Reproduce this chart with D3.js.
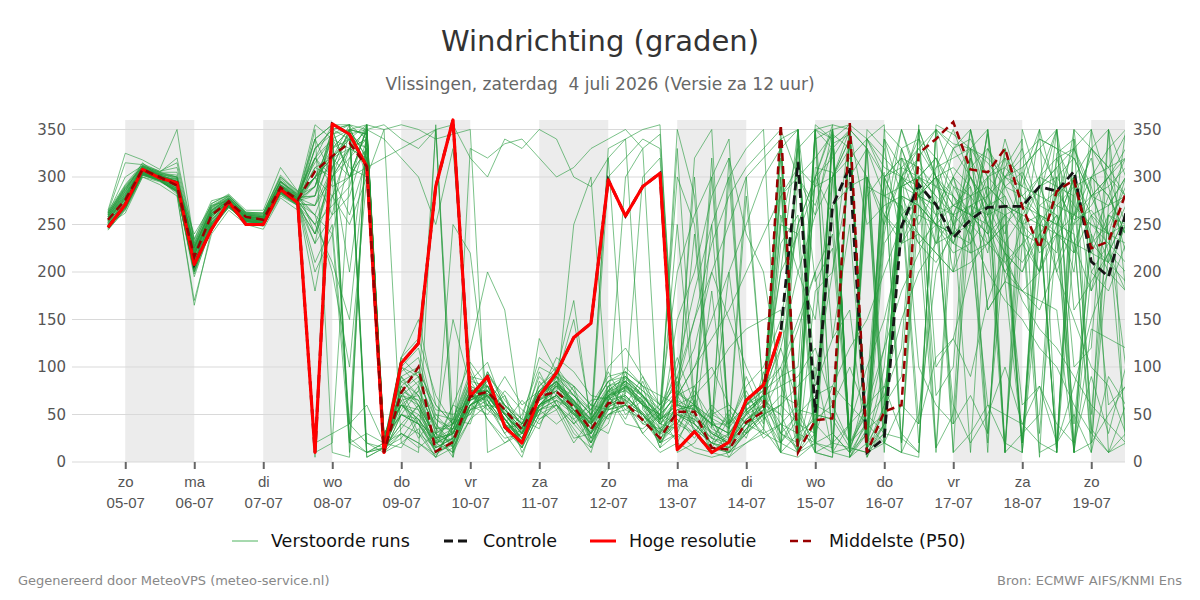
<!DOCTYPE html>
<html>
<head>
<meta charset="utf-8">
<script src="https://cdn.jsdelivr.net/npm/d3@7"></script>
<style>
  body { margin: 0; background: #fff; }
  svg { font-family: "DejaVu Sans", sans-serif; display: block; }
</style>
</head>
<body>
<svg id="chart" width="1200" height="600"></svg>
<script>
// 6-hourly steps from za 04-07 18:00 up to zo 19-07 12:00 (60 steps)
const startTime = Date.UTC(2026, 6, 4, 18);
const stepCount = 60;

const dayLabels = ["zo", "ma", "di", "wo", "do", "vr", "za", "zo", "ma", "di", "wo", "do", "vr", "za", "zo"];
const dateLabels = ["05-07", "06-07", "07-07", "08-07", "09-07", "10-07", "11-07", "12-07", "13-07", "14-07", "15-07", "16-07", "17-07", "18-07", "19-07"];
const yTicks = [0, 50, 100, 150, 200, 250, 300, 350];

// Hoge resolutie (10 days only)
const hres = [247,271,308,299,294,208,245,274,250,250,287,273,10,356,345,311,10,104,125,290,360,69,90,37,20,69,94,131,146,297,259,290,304,13,32,10,21,65,81,137];

// Controle run
const control = [247,271,308,299,294,208,245,274,250,250,287,273,10,356,345,311,10,104,125,290,360,69,90,37,20,69,94,131,146,297,259,290,304,13,32,10,21,65,81,137,
  316,52,269,311,10,25,248,292,271,236,255,268,269,269,290,285,306,211,195,262];

// Middelste (P50)
const p50 = [255,276,308,300,291,216,260,274,258,255,289,276,306,322,336,311,10,73,100,11,21,69,74,55,34,69,74,58,34,62,62,44,25,53,53,15,13,42,53,355,
  10,44,46,357,10,53,60,325,340,358,308,305,330,269,225,285,297,225,232,283];

// Verstoorde runs (50 members)
const members = [
  [258,280,310,302,295,220,262,276,260,258,292,280,300,340,20,355,25,60,45,20,30,70,75,50,30,65,80,60,40,70,75,60,40,55,60,30,20,45,60,340,20,50,45,350,15,60,290,300,320,250,270,260,220,200,240,260,230,180,220,260],
  [250,270,305,298,288,210,255,270,255,250,285,272,270,310,330,340,15,80,60,15,25,65,70,45,25,70,85,55,30,300,320,340,330,70,40,20,15,30,50,60,40,300,350,10,30,240,330,280,260,230,280,300,320,250,200,300,320,280,240,300],
  [262,290,312,305,300,225,268,280,262,262,300,285,240,300,350,345,20,95,110,40,20,85,60,55,40,80,95,70,55,85,90,75,60,300,250,50,40,60,80,100,10,20,340,5,45,70,120,350,300,270,260,240,200,180,160,210,260,300,280,240],
  [245,265,300,295,285,200,250,268,252,248,280,270,10,20,300,350,10,50,40,10,35,60,80,40,20,55,60,45,20,55,60,50,20,80,120,200,150,100,60,30,15,90,200,300,330,20,10,50,200,250,300,250,310,340,10,20,80,150,200,250],
  [260,285,315,300,290,215,258,273,258,256,290,275,280,350,300,330,30,60,75,350,40,70,65,40,15,60,70,50,45,320,60,50,30,60,55,40,40,80,100,150,250,300,355,350,5,40,300,330,350,300,280,250,230,260,290,300,270,250,230,210],
  [252,275,306,303,295,240,270,275,258,250,290,278,300,320,340,5,15,30,20,5,15,55,70,60,40,75,90,80,60,90,95,80,70,60,320,350,20,60,70,80,90,120,60,20,40,120,280,270,250,220,230,60,20,10,300,320,330,280,270,300],
  [248,268,303,297,282,165,245,268,253,255,285,270,250,210,150,330,10,110,150,60,40,90,85,60,40,70,90,70,50,75,85,70,50,90,150,200,250,300,320,340,350,10,20,40,100,150,230,260,250,270,280,290,270,250,260,200,150,100,80,30],
  [265,325,318,308,350,230,272,282,265,265,310,285,320,355,345,350,355,340,330,350,355,320,300,340,330,350,340,300,290,320,340,350,355,10,20,50,60,40,30,20,10,30,80,120,150,200,250,280,300,250,220,230,210,180,200,240,260,280,300,330],
  [255,278,308,298,292,218,262,275,257,252,288,276,210,250,40,20,15,40,30,15,25,65,75,55,35,65,75,60,40,65,80,65,35,50,40,25,20,50,60,50,330,350,10,15,55,260,300,290,270,240,250,280,300,320,340,330,290,240,200,180],
  [250,262,300,292,280,170,240,265,250,245,278,265,5,350,340,310,25,70,60,25,30,70,80,50,30,60,75,55,30,50,55,45,25,45,30,15,10,35,50,120,200,260,300,350,20,80,150,200,230,260,240,200,170,150,120,100,60,30,10,60],
  [258,282,310,300,298,228,265,277,260,258,295,280,290,330,350,320,20,85,95,30,40,75,70,50,25,70,85,60,35,75,90,70,45,60,55,300,340,50,70,20,55,50,45,15,60,300,310,330,300,270,260,250,220,170,140,120,90,60,40,20],
  [262,300,312,305,320,235,275,280,262,260,295,282,320,290,300,350,10,30,20,8,20,60,75,45,20,55,65,55,25,60,300,330,20,30,15,10,5,20,30,40,60,350,340,5,35,50,290,300,280,260,310,330,300,280,260,240,220,300,330,350],
  [244,266,302,296,284,205,248,270,254,252,284,273,260,200,100,300,30,60,45,20,250,220,65,40,25,60,70,250,300,55,65,50,30,70,100,130,160,200,240,280,310,290,335,345,10,20,60,40,110,130,90,170,220,200,260,250,300,330,310,345],
  [256,276,308,300,292,222,260,273,257,255,288,275,290,340,10,350,15,35,60,25,10,45,90,35,40,50,100,75,20,80,55,70,20,40,70,15,45,30,85,200,240,290,300,330,10,40,320,310,290,280,250,230,260,270,300,350,10,20,50,80],
  [252,272,305,300,295,212,255,272,256,253,286,274,180,280,330,340,20,100,80,30,150,80,70,45,20,130,95,170,40,80,85,60,50,70,80,100,60,40,50,20,340,80,130,250,10,300,320,290,15,290,260,345,230,20,270,260,40,230,210,190],
  [260,288,311,303,300,225,265,278,260,258,292,279,340,355,20,10,15,75,40,30,45,95,55,70,15,85,60,40,65,68,78,62,42,330,58,38,300,55,70,40,30,20,350,355,340,310,300,320,350,10,30,60,50,40,20,10,350,330,300,280],
  [248,270,304,296,286,195,248,268,254,250,282,270,240,280,300,310,320,330,340,350,10,60,70,50,30,65,75,60,45,70,80,60,50,100,180,250,300,330,350,10,30,45,60,100,50,30,25,10,350,335,330,315,290,305,270,285,255,265,240,250],
  [254,278,309,302,293,218,258,274,258,257,290,277,300,320,340,355,10,65,70,20,25,70,70,45,25,60,78,65,35,65,70,50,25,40,30,15,10,30,45,60,350,190,225,20,280,305,10,355,15,50,330,160,190,250,5,325,340,35,10,30],
  [258,285,310,301,297,226,264,276,259,256,291,278,330,350,355,300,10,50,45,10,20,55,65,40,20,55,65,50,30,55,60,45,20,50,45,30,20,45,55,300,30,340,350,20,300,60,90,350,100,130,200,250,10,310,330,350,20,240,60,80],
  [246,268,302,296,285,200,250,270,254,250,284,272,20,30,40,350,25,75,90,35,35,75,75,55,35,75,90,70,50,80,90,70,55,75,60,250,35,300,70,100,150,200,240,30,300,260,230,240,10,260,270,280,20,230,200,350,160,190,220,260],
  [256,280,309,300,290,214,258,272,256,254,287,275,250,300,330,320,15,90,100,50,30,70,60,40,15,50,60,40,20,50,60,30,10,20,10,5,10,30,50,70,60,10,5,350,330,300,20,270,250,240,350,260,270,260,30,240,230,220,210,350],
  [250,272,306,299,288,208,252,270,255,252,285,273,330,345,350,355,350,20,10,355,5,330,320,335,340,320,300,310,330,340,350,330,345,60,70,90,120,140,150,160,10,180,200,350,250,270,280,40,310,320,330,300,10,270,260,250,240,20,220,200],
  [264,292,314,306,310,232,270,280,263,262,300,283,315,340,350,345,30,60,55,20,30,65,75,50,30,70,85,65,45,70,85,70,45,60,50,30,20,40,60,330,350,20,10,40,60,120,180,220,260,300,330,350,10,30,50,300,100,120,350,180],
  [247,270,304,298,287,206,250,269,254,251,284,272,270,330,340,330,20,50,40,15,25,60,70,45,25,60,70,55,35,330,340,55,35,55,45,25,15,40,55,250,240,10,270,290,300,20,290,280,250,230,220,350,190,180,170,160,10,140,130,120],
  [258,283,309,302,295,220,262,275,259,257,290,277,260,310,350,20,10,20,35,5,40,50,95,60,10,45,55,80,25,58,66,50,28,50,35,20,10,20,35,10,5,20,30,10,340,300,260,240,220,200,210,230,250,270,290,310,330,350,10,20],
  [254,276,307,300,291,219,260,274,258,256,289,276,230,260,280,340,15,70,65,25,35,75,80,55,35,72,85,65,45,72,85,68,50,70,100,150,200,250,300,330,20,350,355,10,340,320,300,280,270,40,260,270,280,20,300,290,280,50,260,250],
  [250,268,304,297,286,203,252,270,254,250,284,272,340,355,355,10,20,110,130,70,40,85,80,60,40,75,95,75,55,85,95,80,60,200,260,300,40,60,75,90,100,350,130,160,10,230,260,280,300,310,290,30,270,260,250,240,10,260,270,280],
  [262,289,311,304,302,228,268,278,261,260,296,281,300,280,250,300,350,355,350,340,345,350,10,20,30,60,80,60,40,60,80,70,45,55,60,40,30,50,70,30,50,70,80,60,40,20,10,5,355,345,330,320,300,290,280,270,260,250,240,230],
  [252,274,306,300,290,212,256,272,256,253,287,274,200,240,20,30,20,90,70,40,15,55,60,30,50,100,90,45,60,45,90,75,55,85,30,60,40,75,40,230,260,20,300,320,340,355,20,300,70,100,330,160,190,20,250,280,300,30,350,10],
  [256,279,308,301,293,217,261,274,257,254,289,276,310,320,330,350,15,55,80,15,60,105,80,45,20,70,110,95,70,66,76,60,40,65,55,40,30,55,70,290,10,310,305,30,290,280,270,20,250,240,230,350,210,230,250,15,290,300,310,320],
  [260,286,310,303,298,224,265,277,260,258,294,279,280,345,355,5,15,100,120,45,30,60,50,75,55,40,65,30,15,62,72,300,320,58,48,32,22,45,58,10,350,30,340,355,20,260,240,300,280,10,320,250,200,230,350,20,300,260,240,30],
  [248,266,303,297,285,198,246,268,253,249,282,270,230,320,300,350,20,30,15,30,5,75,45,20,35,95,60,35,10,70,40,35,50,20,60,35,25,50,30,300,20,345,10,5,30,340,280,270,230,300,250,10,330,270,220,240,350,200,180,230],
  [257,281,309,301,294,221,262,275,258,256,291,277,310,300,260,320,25,85,70,25,30,72,76,52,32,70,82,64,44,74,82,64,44,66,300,40,30,280,74,200,350,10,300,340,15,40,300,250,290,260,10,300,280,240,200,320,260,330,350,300],
  [253,273,305,299,289,211,254,271,255,252,286,273,350,10,5,355,10,65,25,50,45,40,95,65,45,35,85,40,55,85,50,65,15,30,75,45,10,65,35,250,330,20,350,10,300,250,350,290,230,240,320,280,240,300,260,10,230,280,290,310],
  [263,315,313,306,315,234,272,281,263,262,302,284,340,300,320,340,20,15,45,20,60,50,80,35,15,50,90,60,20,65,85,40,35,25,50,10,20,40,65,50,10,40,20,15,330,280,350,300,260,270,290,230,250,20,280,350,240,10,270,300],
  [251,270,305,298,287,207,252,270,255,251,285,272,300,260,350,345,10,70,85,45,35,75,72,52,34,70,84,62,40,70,78,60,40,62,240,36,320,52,68,340,30,300,260,20,350,330,230,280,300,200,350,240,260,10,200,250,300,180,260,240],
  [259,284,310,302,296,223,264,276,259,257,292,278,270,300,40,60,20,100,90,35,40,120,200,160,36,74,88,150,46,76,88,70,48,72,60,46,36,60,76,120,60,350,330,15,10,280,290,350,300,230,270,220,330,250,290,310,220,260,210,250],
  [249,269,303,297,286,204,251,269,254,251,284,271,320,340,310,300,25,50,40,12,22,60,68,46,24,58,70,52,32,58,68,52,30,150,200,280,320,240,200,80,40,30,350,10,40,300,320,270,250,330,300,260,290,280,250,10,340,220,260,280],
  [255,277,307,300,291,218,259,273,257,255,288,276,290,350,300,330,15,80,55,10,35,85,105,55,40,90,70,65,25,40,95,45,60,90,40,20,55,30,95,20,45,10,5,350,15,30,330,340,320,290,280,20,300,310,330,290,250,270,300,320],
  [261,288,311,304,300,227,267,278,261,259,296,281,355,340,330,350,340,320,300,250,330,100,60,40,30,60,70,50,30,60,70,50,30,50,40,20,15,35,50,60,80,100,10,350,20,50,310,100,60,40,70,30,230,60,80,40,20,90,30,100],
  [246,267,302,296,284,201,248,269,253,250,283,271,240,310,350,320,20,60,50,20,30,65,75,50,30,60,70,55,40,100,120,90,60,80,150,230,280,310,330,350,300,320,345,330,300,10,280,240,220,200,250,330,290,250,230,260,200,350,290,220],
  [256,279,308,300,292,219,260,274,257,255,289,276,330,350,355,350,25,50,75,35,15,45,60,90,60,75,55,20,45,70,45,85,40,35,65,10,30,55,25,40,10,60,50,20,60,80,30,10,350,330,340,300,310,290,340,330,320,280,300,250],
  [253,274,306,299,290,213,256,272,256,253,287,275,300,310,200,340,15,75,65,22,32,68,72,50,30,66,80,62,40,68,80,62,42,250,52,320,28,52,66,130,250,300,320,350,5,60,290,320,270,260,300,270,230,210,240,270,290,230,250,290],
  [260,287,311,303,299,226,266,277,261,259,295,280,260,240,320,355,15,40,60,25,45,90,65,30,5,60,80,70,50,95,60,40,55,110,60,45,15,70,50,10,300,260,350,20,50,250,300,340,300,280,260,240,300,330,260,10,280,320,240,100],
  [251,271,304,298,288,209,253,271,255,252,286,273,320,300,330,320,25,90,60,10,18,60,70,45,22,58,68,52,30,60,70,52,32,52,42,180,18,40,54,90,140,200,30,10,80,300,260,230,250,60,20,50,100,40,80,20,50,10,90,60],
  [258,282,309,301,295,222,263,275,258,256,291,278,280,320,345,330,20,110,90,55,50,65,85,60,45,110,95,80,60,55,100,80,20,45,25,55,35,90,45,350,10,355,340,5,20,340,310,300,290,330,350,280,320,300,350,280,10,300,280,240],
  [247,267,303,296,285,202,249,269,253,250,283,271,20,320,355,340,15,25,50,30,20,70,55,40,65,45,60,25,30,75,65,30,50,40,80,25,50,25,75,260,200,150,300,340,10,30,270,230,210,240,260,300,10,350,290,250,10,200,230,270],
  [262,291,312,305,305,230,269,279,262,261,298,282,300,330,350,10,20,70,30,5,40,55,90,70,35,80,100,50,40,30,80,60,15,65,35,20,30,60,85,30,20,40,350,15,10,350,330,280,310,350,300,270,260,240,230,280,330,290,220,180],
  [254,277,307,300,291,217,260,273,257,254,288,275,250,270,290,355,10,80,95,60,40,80,70,50,32,68,82,64,42,70,82,64,44,350,280,38,200,54,70,280,300,270,330,350,20,100,300,280,270,300,230,260,340,280,300,200,250,330,310,280],
  [249,269,304,297,286,205,251,270,254,251,285,272,290,350,25,10,15,60,40,20,10,80,45,25,30,55,40,55,15,50,60,90,45,75,55,40,5,35,60,320,50,20,15,350,330,40,250,300,320,280,240,290,270,10,240,220,300,230,280,320]
];

const W = 1200, H = 600;
const plot = { left: 70, right: 1125, top: 120, bottom: 462 };

const svg = d3.select("#chart");

const times = d3.range(stepCount).map(i => new Date(startTime + i * 6 * 3600 * 1000));

const x = d3.scaleUtc()
  .domain([times[0], times[stepCount - 1]])
  .range([108, 1125.75]);

const y = d3.scaleLinear()
  .domain([0, 360])
  .range([plot.bottom, plot.top]);

const dayTicks = dateLabels.map((d, i) => new Date(Date.UTC(2026, 6, 5 + i)));

svg.append("defs").append("clipPath").attr("id", "plotclip")
  .append("rect")
  .attr("x", plot.left).attr("y", plot.top - 2)
  .attr("width", plot.right - plot.left).attr("height", plot.bottom - plot.top + 4);

// shaded alternate days
const bands = dayTicks.filter((d, i) => i % 2 === 0);
svg.append("g")
  .selectAll("rect")
  .data(bands)
  .join("rect")
  .attr("x", d => x(d))
  .attr("y", plot.top)
  .attr("width", d => Math.min(x(d3.utcDay.offset(d, 1)), plot.right) - x(d))
  .attr("height", plot.bottom - plot.top)
  .attr("fill", "#ececec");

// gridlines
svg.append("g")
  .selectAll("line")
  .data(yTicks)
  .join("line")
  .attr("x1", plot.left + 2).attr("x2", plot.right)
  .attr("y1", d => y(d)).attr("y2", d => y(d))
  .attr("stroke", "#d9d9d9")
  .attr("stroke-width", 1);

// y axes, left and right
const yLeft = svg.append("g")
  .attr("transform", `translate(${plot.left},0)`)
  .call(d3.axisLeft(y).tickValues(yTicks).tickSize(0).tickPadding(4));
const yRight = svg.append("g")
  .attr("transform", `translate(${plot.right},0)`)
  .call(d3.axisRight(y).tickValues(yTicks).tickSize(0).tickPadding(8));
[yLeft, yRight].forEach(g => {
  g.select(".domain").remove();
  g.selectAll("text")
    .attr("font-family", "DejaVu Sans, sans-serif")
    .attr("font-size", 15)
    .attr("fill", "#555");
});

// x axis with two-line day labels
const xAxis = svg.append("g")
  .attr("transform", `translate(0,${plot.bottom})`)
  .call(d3.axisBottom(x).tickValues(dayTicks).tickSize(7).tickFormat(""));
xAxis.select(".domain").remove();
xAxis.selectAll(".tick line").attr("stroke", "#666").attr("stroke-width", 2);
xAxis.selectAll(".tick").each(function (d, i) {
  const t = d3.select(this);
  t.append("text").attr("y", 25).attr("text-anchor", "middle")
    .attr("font-size", 15).attr("fill", "#555").text(dayLabels[i]);
  t.append("text").attr("y", 46).attr("text-anchor", "middle")
    .attr("font-size", 15).attr("fill", "#555").text(dateLabels[i]);
});

const line = d3.line()
  .x((d, i) => x(times[i]))
  .y(d => y(d));

const lines = svg.append("g").attr("clip-path", "url(#plotclip)");

// ensemble members
lines.append("g")
  .selectAll("path")
  .data(members)
  .join("path")
  .attr("d", line)
  .attr("fill", "none")
  .attr("stroke", "#23993a")
  .attr("stroke-width", 1)
  .attr("stroke-opacity", 0.6);

lines.append("path")
  .attr("d", line(control))
  .attr("fill", "none")
  .attr("stroke", "#151515")
  .attr("stroke-width", 2.8)
  .attr("stroke-dasharray", "9,5");

lines.append("path")
  .attr("d", line(hres))
  .attr("fill", "none")
  .attr("stroke", "#ff0000")
  .attr("stroke-width", 3.2)
  .attr("stroke-linejoin", "round");

lines.append("path")
  .attr("d", line(p50))
  .attr("fill", "none")
  .attr("stroke", "#990000")
  .attr("stroke-width", 2.5)
  .attr("stroke-dasharray", "8,5");

// titles
svg.append("text")
  .attr("x", W / 2).attr("y", 51)
  .attr("text-anchor", "middle")
  .attr("font-size", 29)
  .attr("fill", "#333")
  .text("Windrichting (graden)");

svg.append("text")
  .attr("x", W / 2).attr("y", 90)
  .attr("text-anchor", "middle")
  .attr("font-size", 17)
  .attr("fill", "#666")
  .attr("xml:space", "preserve")
  .style("white-space", "pre")
  .text("Vlissingen, zaterdag  4 juli 2026 (Versie za 12 uur)");

// legend
const legendItems = [
  { label: "Verstoorde runs", x: 232, color: "#4fb35f", width: 1, dash: null },
  { label: "Controle", x: 444, color: "#151515", width: 3, dash: "9,5" },
  { label: "Hoge resolutie", x: 590, color: "#ff0000", width: 3, dash: null },
  { label: "Middelste (P50)", x: 790, color: "#990000", width: 2.5, dash: "8,5" }
];
const legend = svg.append("g").attr("transform", "translate(0,541)");
legendItems.forEach(it => {
  legend.append("line")
    .attr("x1", it.x).attr("x2", it.x + 26)
    .attr("y1", 0).attr("y2", 0)
    .attr("stroke", it.color)
    .attr("stroke-width", it.width)
    .attr("stroke-dasharray", it.dash);
  legend.append("text")
    .attr("x", it.x + 39).attr("y", 6)
    .attr("font-size", 17.5)
    .attr("fill", "#111")
    .text(it.label);
});

// footer
svg.append("text")
  .attr("x", 18).attr("y", 585)
  .attr("font-size", 13)
  .attr("fill", "#888")
  .text("Gegenereerd door MeteoVPS (meteo-service.nl)");

svg.append("text")
  .attr("x", 1182).attr("y", 585)
  .attr("text-anchor", "end")
  .attr("font-size", 13)
  .attr("fill", "#888")
  .text("Bron: ECMWF AIFS/KNMI Ens");
</script>
</body>
</html>
